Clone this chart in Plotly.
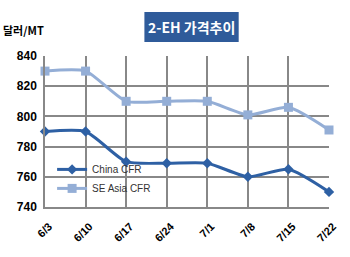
import plotly.graph_objects as go

dates = ["6/3", "6/10", "6/17", "6/24", "7/1", "7/8", "7/15", "7/22"]
china = [790, 790, 770, 769, 769, 760, 765, 750]
se_asia = [830, 830, 810, 810, 810, 801, 806, 791]
y_ticks = [740, 760, 780, 800, 820, 840]

fig = go.Figure()
fig.add_trace(go.Scatter(
    x=list(range(len(dates))), y=china, name="China CFR",
    mode="lines+markers", line=dict(color="#2E60A4", width=3, shape="spline", smoothing=0.6),
    marker=dict(symbol="diamond", size=8, color="#2E60A4"), cliponaxis=False))
fig.add_trace(go.Scatter(
    x=list(range(len(dates))), y=se_asia, name="SE Asia CFR",
    mode="lines+markers", line=dict(color="#94AED6", width=3, shape="spline", smoothing=0.6),
    marker=dict(symbol="square", size=9, color="#94AED6"), cliponaxis=False))

fig.update_layout(
    width=350, height=257,
    margin=dict(l=45, r=19, t=56, b=50),
    paper_bgcolor="white", plot_bgcolor="white",
    font=dict(family="Liberation Sans, Arial, sans-serif", color="#000000"),
    showlegend=True,
    legend=dict(x=0.025, y=0.345, xanchor="left", yanchor="top", bgcolor="rgba(0,0,0,0)",
                font=dict(size=10, color="#333333"), tracegroupgap=0, itemwidth=30),
    xaxis=dict(range=[0, 7], tickmode="array", tickvals=list(range(len(dates))), ticktext=dates,
               tickangle=-45, showgrid=True, gridcolor="#888888", gridwidth=1.5,
               showline=True, linecolor="#888888", linewidth=1.5, zeroline=False,
               tickfont=dict(size=11, weight="bold"), ticks="",
               ticklabelstandoff=7, ticklabelshift=4),
    yaxis=dict(range=[740, 840], tickmode="array", tickvals=y_ticks,
               showgrid=True, gridcolor="#888888", gridwidth=1.5,
               showline=True, linecolor="#888888", linewidth=1.5, zeroline=False,
               tickfont=dict(size=12, weight="bold"), ticks="", ticklabelstandoff=4),
    shapes=[dict(type="rect", xref="paper", yref="paper", x0=0.35, x1=0.682,
                 y0=1.093, y1=1.291, fillcolor="#2F5B9A", line=dict(width=0))],
    annotations=[
        dict(text="2-EH 가격추이", xref="paper", yref="paper", x=0.516, y=1.192,
             xanchor="center", yanchor="middle", showarrow=False,
             font=dict(family="Noto Sans CJK KR", size=14, color="white", weight="bold")),
        dict(text="달러/MT", xref="paper", yref="paper", x=-0.155, y=1.17,
             xanchor="left", yanchor="middle", showarrow=False,
             font=dict(family="Noto Sans CJK KR", size=11, color="black", weight="bold")),
    ],
)

fig.write_html("out.html")
